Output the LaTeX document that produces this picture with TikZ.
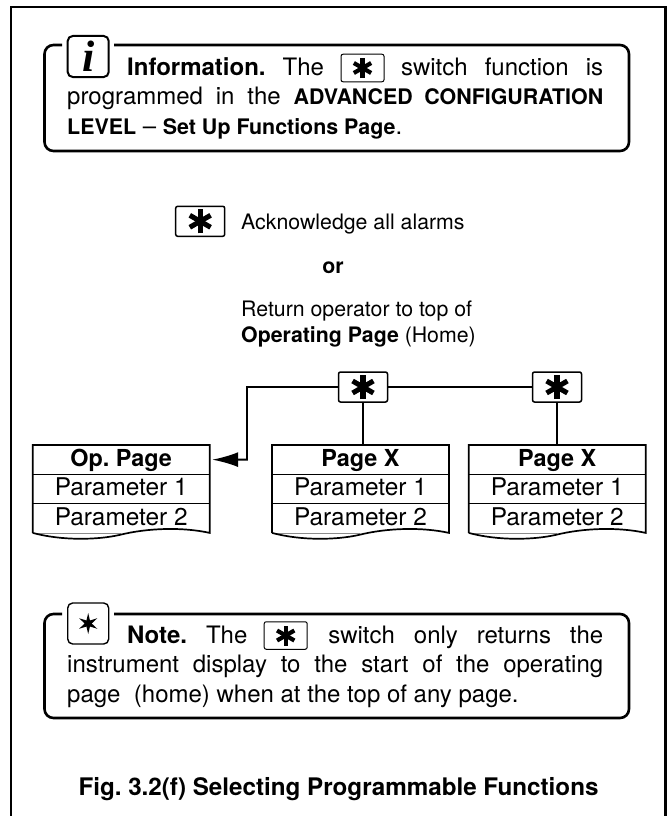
\documentclass[tikz,border=0pt]{standalone}
\usepackage{fontspec}
\setmainfont{TeX Gyre Heros}
\newfontfamily\iconfont{Liberation Serif}
\usetikzlibrary{arrows.meta,shapes.geometric}
\def\switchkey[#1](#2)(#3,#4)(#5){
	\node[#1] (#2) at (#3,#4) {};
	\draw[line width=#5*0.42pt] ([shift={(90:#5)}]#2.center) -- ([shift={(270:#5)}]#2.center);
	\draw[line width=#5*0.42pt] ([shift={(30:#5)}]#2.center) -- ([shift={(210:#5)}]#2.center);
	\draw[line width=#5*0.42pt] ([shift={(150:#5)}]#2.center) -- ([shift={(330:#5)}]#2.center);
}
\def\pagebox(#1)(#2)#3{
	\node[pagerow, font=\headfont\bfseries] (#1) at (#2,445) {#3};
	\node[pagerow] (#1a) at (#1.south) {Parameter 1};
	\node[pagerow] (#1b) at (#1a.south) {Parameter 2};
	\draw[line width=1pt] (#1.south west) -- (#1.south east);
	\draw[line width=1pt] (#1a.south west) -- (#1a.south east);
	\draw[line width=0.8pt, color=black!45] (#1b.south west) -- ++(88,0);
	\draw[pageline] (#1b.south west) -- (#1.north west) -- (#1.north east) -- (#1b.south east)
		.. controls +(-27,-6) and +(28,-7) .. +(-90,2)
		.. controls +(-22,5) and +(30,8) .. (#1b.south west);
}
\def\pagefont{\fontsize{24.4}{24.4}\selectfont}
\def\headfont{\fontsize{23.4}{23.4}\selectfont}
\def\capsfont{\fontsize{21.4}{29.5}\selectfont\bfseries}
\tikzset{
	frameline/.style={line width=2.6pt},
	panel/.style={line width=2.6pt, rounded corners=9pt},
	panelbody/.style={anchor=base west, inner sep=0pt, text width=536pt, align=justify, font=\fontsize{24}{29.5}\selectfont},
	icon/.style={draw, line width=2pt, rounded corners=5pt, minimum size=41pt, inner sep=0pt},
	keybig/.style={draw, line width=1.5pt, rounded corners=2pt, minimum width=49pt, minimum height=30pt, inner sep=0pt, outer sep=0pt},
	keysmall/.style={draw, line width=1pt, rounded corners=2pt, minimum width=43pt, minimum height=27.5pt, inner sep=0pt, outer sep=0pt},
	caption/.style={anchor=base west, inner sep=0pt, font=\fontsize{21.3}{21.3}\selectfont},
	pagerow/.style={anchor=north, minimum width=177pt, minimum height=29.3pt, inner sep=0pt, outer sep=0pt, text height=17pt, text depth=3pt, font=\pagefont},
	pageline/.style={line width=1.7pt},
	wire/.style={line width=1.8pt}
}
\begin{document}
\frenchspacing
\begin{tikzpicture}[x=1pt, y=-1pt]
	%%%%% FRAME %%%%%
	\useasboundingbox (0,0) rectangle (667,816);
	\draw[frameline] (11,816) -- (11,7) -- (665.5,7) -- (665.5,816);

	%%%%% INFORMATION %%%%%
	\draw[panel] (114,45) -- (629,45) -- (629,151) -- (44.5,151) -- (44.5,45) -- (62,45);
	\node[icon] (infoicon) at (88.2,56.5) {\fontsize{44}{44}\selectfont\iconfont\bfseries\itshape i};
	\node[panelbody] (infotext) at (67,75) {\hspace*{60pt}\textbf{Information.} The \hspace{43pt} switch function is\linebreak
		programmed in the {\capsfont ADVANCED CONFIGURATION}\linebreak
		{\capsfont LEVEL} -- {\capsfont Set Up Functions Page}.};
	\switchkey[keysmall](infokey)(362.5,68)(10)

	%%%%% LEGEND %%%%%
	\switchkey[keybig](legendkey)(200.2,221.3)(12)
	\node[caption] (legenda) at (241,229) {Acknowledge all alarms};
	\node[caption, anchor=base, font=\fontsize{21.3}{21.3}\selectfont\bfseries] (legendor) at (333,273) {or};
	\node[caption] (legendb) at (241,316) {Return operator to top of};
	\node[caption] (legendc) at (241,342) {\textbf{Operating Page} (Home)};

	%%%%% PAGES %%%%%
	\pagebox(oppage)(121.2){Op. Page}
	\pagebox(pagex)(360.5){Page X}
	\pagebox(pagey)(557.2){Page X}
	\switchkey[keybig](keya)(363,387)(12)
	\switchkey[keybig](keyb)(557,387)(12)
	\coordinate (elbow) at (247,459.6);
	\draw[wire] (keyb.west) -- (keya.east);
	\draw[wire] (keya.south) -- (keya.south |- pagex.north);
	\draw[wire] (keyb.south) -- (keyb.south |- pagey.north);
	\draw[wire, -{Latex[length=26pt,width=15pt]}, shorten >=2.5pt] (keya.west) -| (elbow) -- (oppage.east);

	%%%%% NOTE %%%%%
	\draw[panel] (114,614) -- (629,614) -- (629,718) -- (44.5,718) -- (44.5,614) -- (62,614);
	\node[icon, line width=1.4pt] (noteicon) at (88.2,623.5) {};
	\node[star, star points=6, star point ratio=3, fill=black, inner sep=0pt, minimum size=21pt] (notestar) at (noteicon.center) {};
	\node[panelbody] (notetext) at (67,643) {\hspace*{60pt}\textbf{Note.} The \hspace{43pt} switch only returns the\linebreak
		instrument display to the start of the operating\linebreak
		page\ \ (home) when at the top of any page.};
	\switchkey[keysmall](notekey)(285.7,635.5)(10)

	%%%%% TITLE %%%%%
	\node[caption, anchor=base, font=\fontsize{24.2}{24.2}\selectfont\bfseries] (figtitle) at (338.5,795) {Fig. 3.2(f) Selecting Programmable Functions};
\end{tikzpicture}
\end{document}
